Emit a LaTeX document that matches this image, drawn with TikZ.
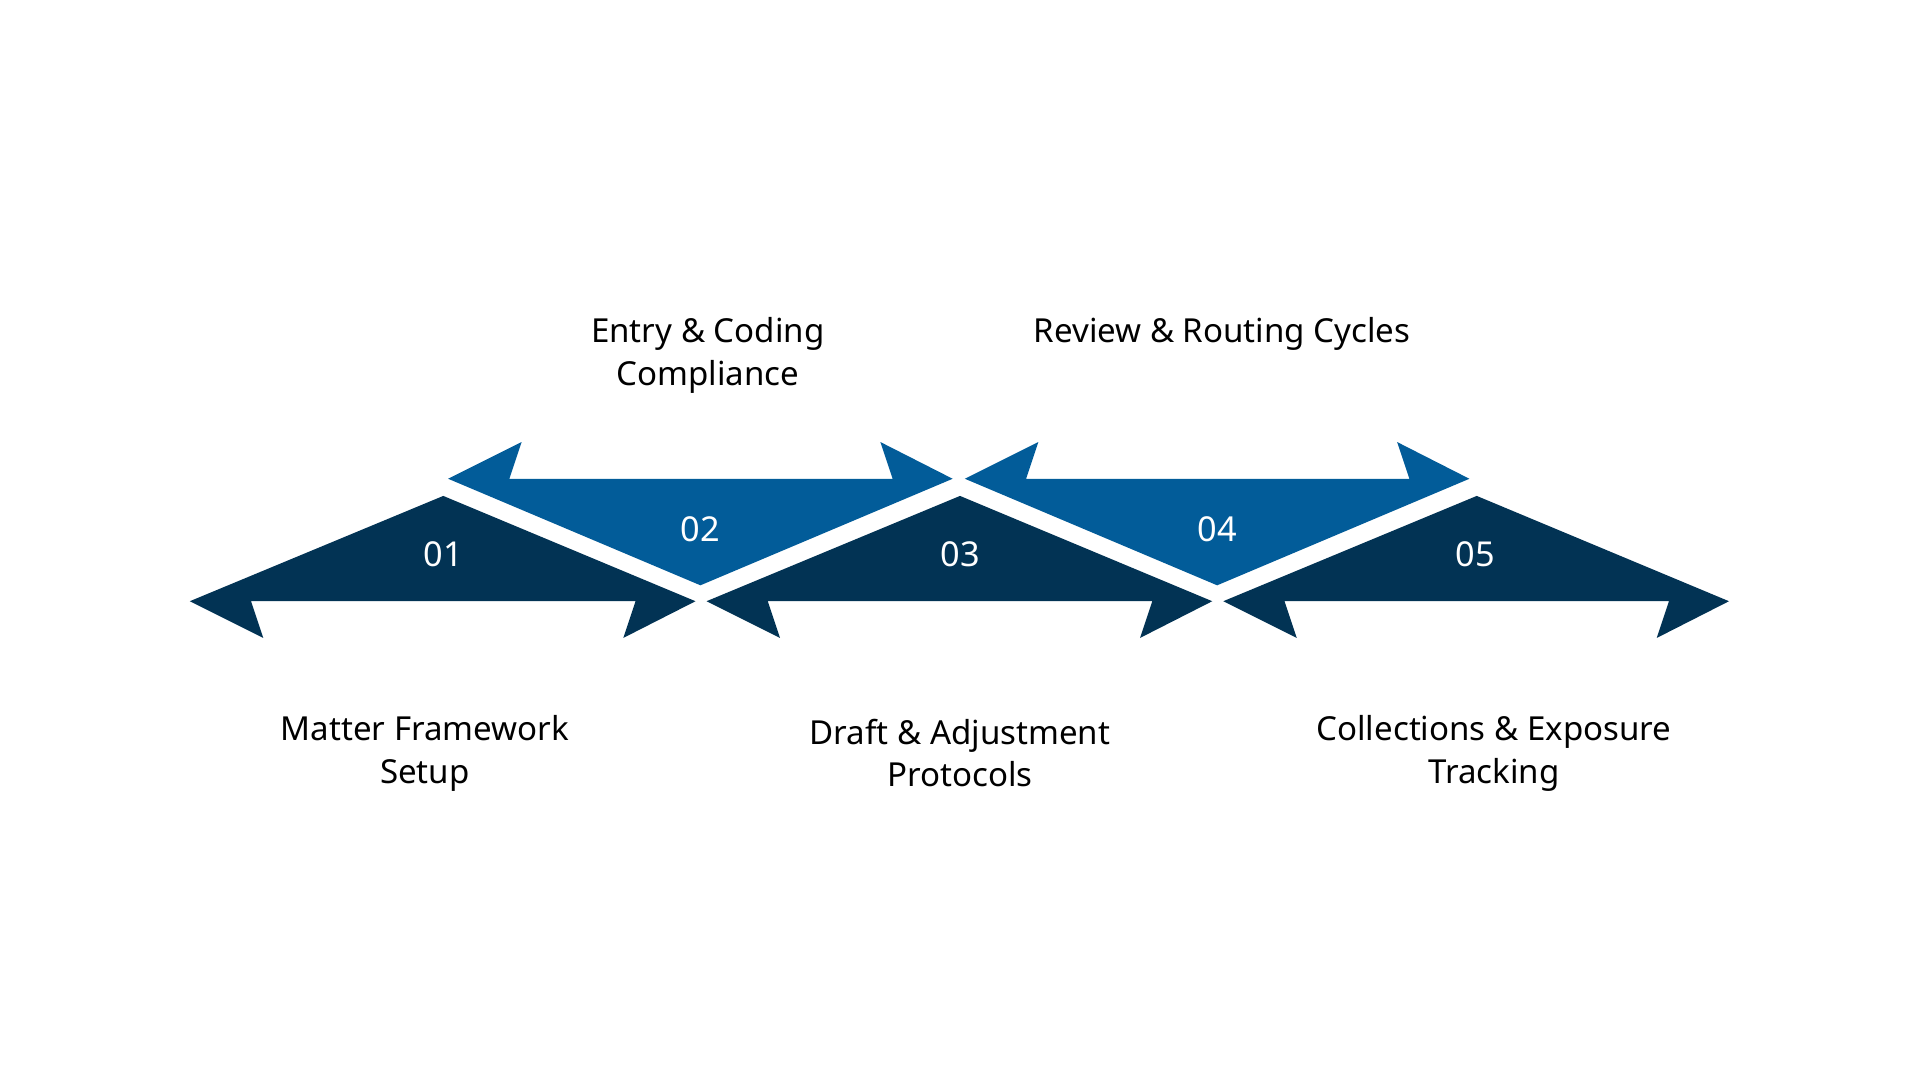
\documentclass[tikz,border=0pt]{standalone}
\usepackage{fontspec}
\setmainfont{Noto Sans}
\definecolor{dk}{HTML}{023354}
\definecolor{bl}{HTML}{025C99}
\begin{document}
\begin{tikzpicture}[x=1pt,y=-1pt,
 lab/.style={font=\fontsize{27}{35}\selectfont\bfseries,align=center,text=black},
 num/.style={font=\fontsize{28}{34}\selectfont,text=white}]
\useasboundingbox (0,0) rectangle (1568,882);
\foreach \i/\dx in {1/0,3/422,5/844}{
 \fill[dk,shift={(\dx,0)}] (155,491)--(362,405)--(568,491)--(509,521)--(519,491)--(205,491)--(215,521)--cycle;}
\foreach \i/\dx in {2/0,4/422}{
 \fill[bl,shift={(\dx,0)}] (366,391)--(426,361)--(416,391)--(729,391)--(719,361)--(778,391)--(572,478)--cycle;}
\node[num] (n1) at (362,453) {01};
\node[num] (n2) at (572,432) {02};
\node[num] (n3) at (784,453) {03};
\node[num] (n4) at (994,432) {04};
\node[num] (n5) at (1205,453) {05};
\node[lab] (l1) at (347,615) {Matter Framework\\Setup};
\node[lab] (l2) at (578,290) {Entry \& Coding\\Compliance};
\node[lab] (l3) at (784,615) {Draft \& Adjustment\\Protocols};
\node[lab] (l4) at (998,273) {Review \& Routing Cycles};
\node[lab] (l5) at (1220,615) {Collections \& Exposure\\Tracking};
\end{tikzpicture}
\end{document}
